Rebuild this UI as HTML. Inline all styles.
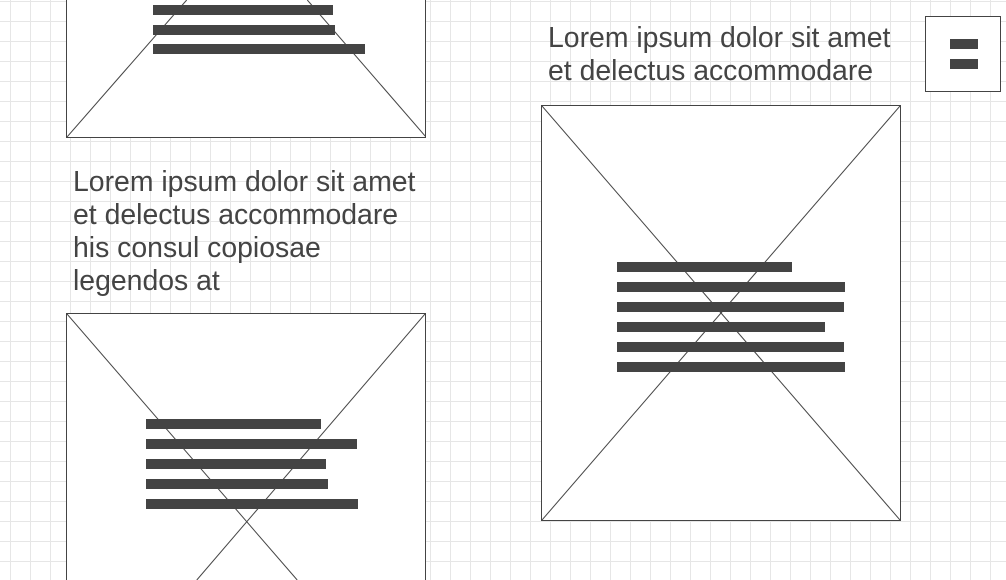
<!DOCTYPE html>
<html><head><meta charset="utf-8"><style>
html,body{margin:0;padding:0;width:1006px;height:580px;overflow:hidden}
body{position:relative;background-color:#fff;
background-image:linear-gradient(to right,#e6e6e6 1px,transparent 1px),linear-gradient(to bottom,#e6e6e6 1px,transparent 1px);
background-size:20px 20px;background-position:10px 1px;font-family:"Liberation Sans",sans-serif}
.box{position:absolute;background:#fff;border:1px solid #444;box-sizing:border-box;overflow:hidden}
.box svg{position:absolute;left:0;top:0;overflow:hidden}
.bar{position:absolute;height:10px;background:#444}
.txt{position:absolute;font-size:28.4px;line-height:33px;color:#444;white-space:nowrap}
</style></head><body>
<div class="box" style="left:66px;top:0;width:360px;height:138px;border-top:none">
<svg width="358" height="137"><line x1="240.3" y1="0" x2="359" y2="137" stroke="#444"/><line x1="119.7" y1="0" x2="0" y2="137" stroke="#444"/></svg></div>
<div class="bar" style="left:153px;top:5px;width:180px"></div>
<div class="bar" style="left:153px;top:25px;width:182px"></div>
<div class="bar" style="left:153px;top:44px;width:212px"></div>

<div class="txt" style="left:73px;top:166px">Lorem ipsum dolor sit amet<br>et delectus accommodare<br>his consul copiosae<br>legendos at</div>

<div class="box" style="left:66px;top:313px;width:360px;height:267px;border-bottom:none">
<svg width="358" height="266"><line x1="0" y1="0" x2="230.2" y2="266" stroke="#444"/><line x1="358" y1="0" x2="129.8" y2="266" stroke="#444"/></svg></div>
<div class="bar" style="left:146px;top:419px;width:175px"></div>
<div class="bar" style="left:146px;top:439px;width:211px"></div>
<div class="bar" style="left:146px;top:459px;width:180px"></div>
<div class="bar" style="left:146px;top:479px;width:182px"></div>
<div class="bar" style="left:146px;top:499px;width:212px"></div>

<div class="txt" style="left:548px;top:22px">Lorem ipsum dolor sit amet<br>et delectus accommodare</div>

<div class="box" style="left:541px;top:105px;width:360px;height:416px">
<svg width="358" height="414"><line x1="0" y1="0" x2="358" y2="414" stroke="#444"/><line x1="358" y1="0" x2="0" y2="414" stroke="#444"/></svg></div>
<div class="bar" style="left:617px;top:262px;width:175px"></div>
<div class="bar" style="left:617px;top:282px;width:228px"></div>
<div class="bar" style="left:617px;top:302px;width:227px"></div>
<div class="bar" style="left:617px;top:322px;width:208px"></div>
<div class="bar" style="left:617px;top:342px;width:227px"></div>
<div class="bar" style="left:617px;top:362px;width:228px"></div>

<div class="box" style="left:925px;top:16px;width:76px;height:76px">
<div class="bar" style="left:24px;top:22px;width:28px"></div>
<div class="bar" style="left:24px;top:42px;width:28px"></div>
</div>
</body></html>
